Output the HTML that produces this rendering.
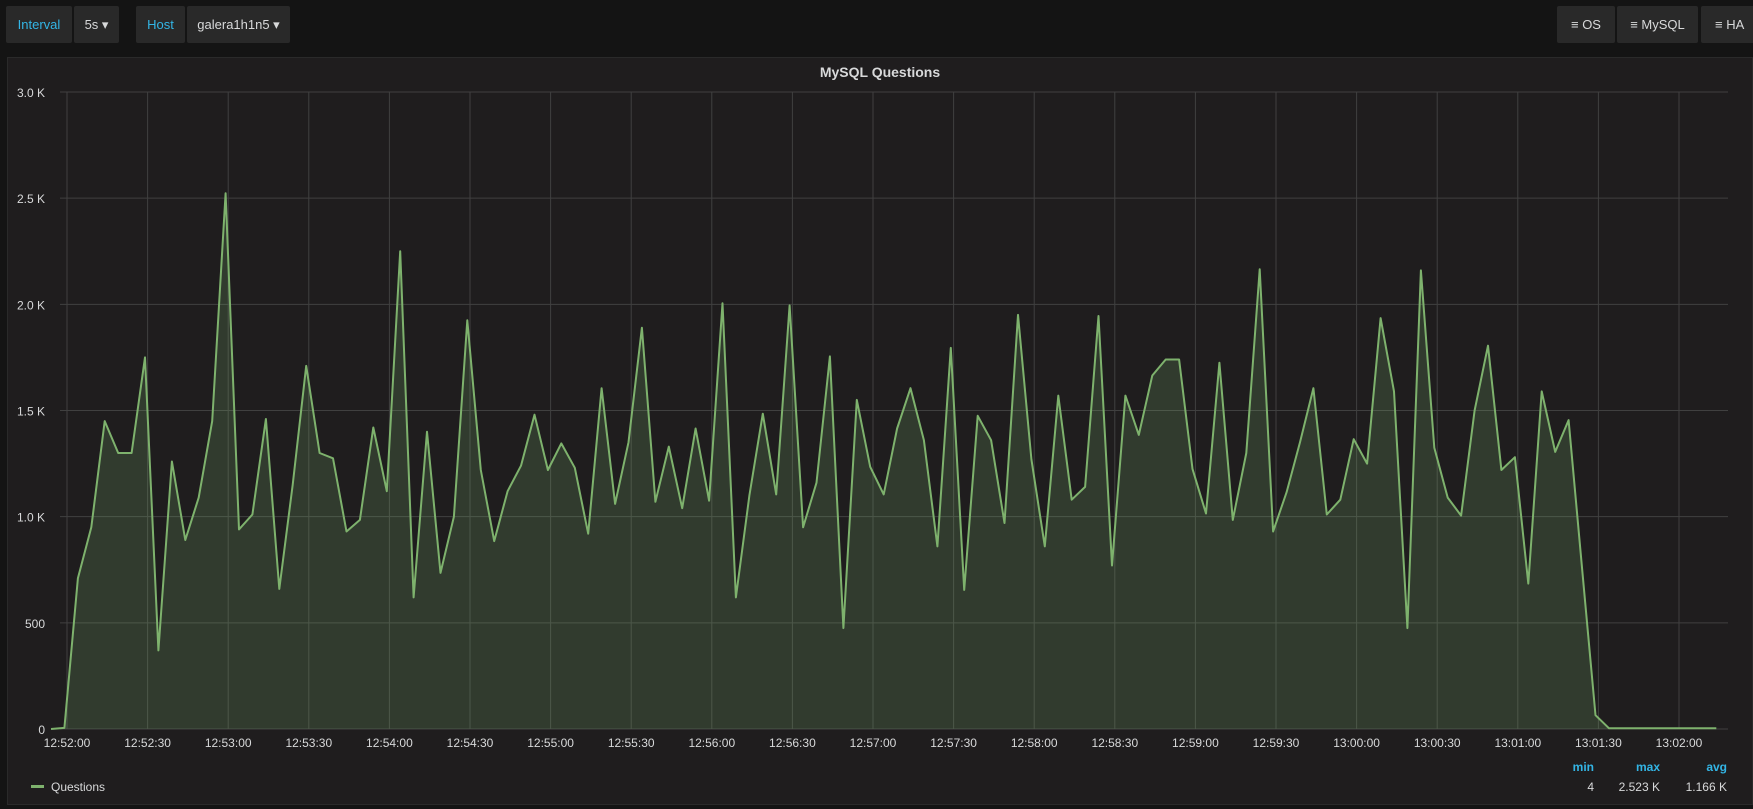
<!DOCTYPE html>
<html><head><meta charset="utf-8"><style>
*{margin:0;padding:0;box-sizing:border-box}
body{width:1753px;height:809px;background:#141414;font-family:"Liberation Sans",sans-serif;overflow:hidden;position:relative;color:#d8d9da}
.btn{position:absolute;top:6px;height:37px;background:#292929;border-radius:2px;font-size:13px;line-height:37px;text-align:center}
.c{color:#33b5e5}
.panel{position:absolute;left:7px;top:57px;width:1746px;height:748px;background:#1f1d1e;border:1px solid #2a2a2a}
svg{position:absolute;left:0;top:0}
</style></head><body>
<div class="btn c" style="left:6px;width:66px">Interval</div>
<div class="btn" style="left:74px;width:45px">5s ▾</div>
<div class="btn c" style="left:136px;width:49px">Host</div>
<div class="btn" style="left:187px;width:103px">galera1h1n5 ▾</div>
<div class="btn" style="left:1557px;width:58px">≡ OS</div>
<div class="btn" style="left:1617px;width:81px">≡ MySQL</div>
<div class="btn" style="left:1701px;width:60px;text-align:left;padding-left:14px">≡ HA</div>
<div class="panel"></div>
<svg id="s" width="1753" height="809" xmlns="http://www.w3.org/2000/svg" font-family="Liberation Sans, sans-serif"></svg>
<script>
var v=[0,5,710,950,1450,1300,1300,1750,370,1260,890,1090,1450,2523,940,1010,1460,660,1150,1710,1300,1275,930,985,1420,1120,2250,620,1400,735,1000,1925,1220,885,1120,1240,1480,1220,1345,1230,920,1605,1060,1350,1890,1070,1330,1040,1415,1075,2005,620,1100,1485,1105,1995,950,1160,1755,475,1550,1235,1105,1415,1605,1360,860,1795,655,1475,1360,970,1950,1270,860,1570,1080,1140,1945,770,1570,1385,1665,1740,1740,1225,1015,1725,985,1300,2165,930,1115,1350,1605,1010,1080,1365,1250,1935,1590,475,2160,1325,1090,1005,1500,1805,1220,1280,685,1590,1305,1455,760,65,4,4,4,4,4,4,4,4,4];
var X0=51,DX=13.43,Y0=729,YS=(729-92)/3000;
var h='';
for(var i=0;i<=6;i++){var y=Y0-i*500*YS;h+='<line x1="60" x2="1728" y1="'+y+'" y2="'+y+'" stroke="#404040" stroke-width="1"/>';
h+='<text x="45" y="'+(y+5)+'" text-anchor="end" font-size="12" fill="#d8d9da">'+(i==0?'0':i==1?'500':(i*0.5).toFixed(1)+' K')+'</text>';}
for(var m=0;m<=20;m++){var x=67+m*80.6;h+='<line x1="'+x+'" x2="'+x+'" y1="92" y2="729" stroke="#404040"/>';
var t=52*60+m*30;var hh=12,mm=Math.floor(t/60),ss=t%60;if(t>=3600){hh=13;mm=Math.floor((t-3600)/60);}
var s=hh+':'+(mm<10?'0':'')+mm+':'+(ss<10?'0':'')+ss;h+='<text x="'+x+'" y="747" text-anchor="middle" font-size="12" fill="#d8d9da">'+s+'</text>';}
var p='';for(i=0;i<v.length;i++){p+=(i?'L':'M')+(X0+i*DX).toFixed(1)+','+(Y0-v[i]*YS).toFixed(1);}
var xe=(X0+(v.length-1)*DX).toFixed(1);
h+='<path d="'+p+'L'+xe+','+Y0+'L'+X0+','+Y0+'Z" fill="#7eb26d" fill-opacity="0.2"/>';
h+='<path d="'+p+'" fill="none" stroke="#7eb26d" stroke-width="2" stroke-linejoin="round"/>';
h+='<text x="880" y="77" text-anchor="middle" font-size="14" font-weight="bold" fill="#d8d9da">MySQL Questions</text>';
h+='<rect x="31" y="785" width="13" height="3" fill="#7eb26d"/><text x="51" y="791" font-size="12" fill="#d8d9da">Questions</text>';
h+='<text x="1594" y="771" text-anchor="end" font-size="12" font-weight="bold" fill="#33b5e5">min</text><text x="1660" y="771" text-anchor="end" font-size="12" font-weight="bold" fill="#33b5e5">max</text><text x="1727" y="771" text-anchor="end" font-size="12" font-weight="bold" fill="#33b5e5">avg</text>';
h+='<text x="1594" y="791" text-anchor="end" font-size="12" fill="#d8d9da">4</text><text x="1660" y="791" text-anchor="end" font-size="12" fill="#d8d9da">2.523 K</text><text x="1727" y="791" text-anchor="end" font-size="12" fill="#d8d9da">1.166 K</text>';
document.getElementById('s').innerHTML=h;
</script>
</body></html>
